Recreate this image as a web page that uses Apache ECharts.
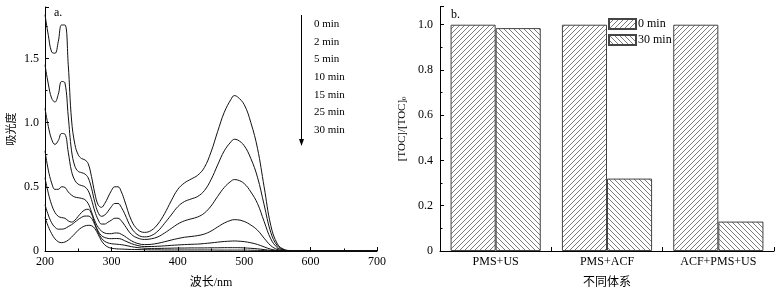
<!DOCTYPE html>
<html>
<head>
<meta charset="utf-8">
<script src="https://cdn.jsdelivr.net/npm/echarts@6/dist/echarts.min.js"></script>
<style>
  html, body { margin: 0; padding: 0; background: #fff; }
  #main { width: 780px; height: 294px; }
</style>
</head>
<body>
<div id="main"></div>
<script>
// 波长 (nm)
const WL = [200, 205, 210, 215, 220, 225, 230, 235, 240, 245, 250, 255, 260, 265, 270, 275, 280, 285, 290, 295,
  300, 305, 310, 315, 320, 330, 340, 350, 360, 370, 380, 390, 400, 410, 420, 430, 440, 450, 460, 470,
  480, 485, 490, 500, 510, 520, 530, 540, 550, 560, 570, 580, 600, 650, 700]

// 吸光度, one list per reaction time
const ABS_0 = [1.84, 1.68, 1.55, 1.54, 1.63, 1.76, 1.76, 1.45, 1.02, 0.83, 0.75, 0.72, 0.71, 0.68, 0.58, 0.45, 0.36, 0.34, 0.37, 0.42,
  0.47, 0.50, 0.50, 0.46, 0.39, 0.24, 0.165, 0.145, 0.16, 0.21, 0.29, 0.39, 0.48, 0.53, 0.56, 0.59, 0.65, 0.77, 0.93, 1.08,
  1.18, 1.21, 1.20, 1.14, 1.00, 0.80, 0.50, 0.20, 0.055, 0.012, 0.003, 0, 0, 0, 0]
const ABS_2 = [1.45, 1.30, 1.19, 1.16, 1.22, 1.32, 1.31, 1.05, 0.78, 0.66, 0.62, 0.61, 0.60, 0.57, 0.49, 0.38, 0.30, 0.27, 0.28, 0.31,
  0.345, 0.37, 0.37, 0.34, 0.29, 0.18, 0.125, 0.11, 0.12, 0.155, 0.215, 0.28, 0.345, 0.385, 0.405, 0.425, 0.47, 0.555, 0.67, 0.78,
  0.85, 0.87, 0.865, 0.82, 0.72, 0.575, 0.36, 0.145, 0.04, 0.009, 0.002, 0, 0, 0, 0]
const ABS_5 = [1.11, 0.97, 0.87, 0.83, 0.86, 0.915, 0.91, 0.77, 0.62, 0.55, 0.52, 0.51, 0.50, 0.47, 0.40, 0.31, 0.245, 0.21, 0.21, 0.225,
  0.24, 0.255, 0.255, 0.235, 0.20, 0.13, 0.10, 0.09, 0.095, 0.11, 0.14, 0.175, 0.21, 0.235, 0.25, 0.265, 0.295, 0.35, 0.425, 0.495,
  0.543, 0.556, 0.553, 0.525, 0.46, 0.37, 0.23, 0.095, 0.026, 0.006, 0.001, 0, 0, 0, 0]
const ABS_10 = [0.78, 0.63, 0.53, 0.48, 0.48, 0.50, 0.495, 0.46, 0.435, 0.42, 0.415, 0.41, 0.40, 0.37, 0.305, 0.235, 0.185, 0.155, 0.14, 0.135,
  0.135, 0.14, 0.14, 0.13, 0.115, 0.08, 0.058, 0.05, 0.052, 0.06, 0.072, 0.085, 0.097, 0.107, 0.113, 0.12, 0.132, 0.155, 0.187, 0.218,
  0.239, 0.244, 0.243, 0.23, 0.202, 0.162, 0.10, 0.042, 0.012, 0.003, 0, 0, 0, 0, 0]
const ABS_15 = [0.57, 0.45, 0.36, 0.30, 0.27, 0.26, 0.255, 0.235, 0.225, 0.24, 0.27, 0.30, 0.32, 0.325, 0.29, 0.215, 0.155, 0.12, 0.105, 0.098,
  0.096, 0.097, 0.097, 0.092, 0.08, 0.058, 0.042, 0.035, 0.035, 0.037, 0.04, 0.044, 0.047, 0.05, 0.052, 0.054, 0.058, 0.063, 0.069, 0.074,
  0.077, 0.078, 0.077, 0.073, 0.064, 0.051, 0.032, 0.014, 0.004, 0.001, 0, 0, 0, 0, 0]
const ABS_25 = [0.36, 0.28, 0.22, 0.185, 0.17, 0.17, 0.175, 0.19, 0.205, 0.225, 0.245, 0.262, 0.272, 0.272, 0.255, 0.205, 0.145, 0.10, 0.075, 0.063,
  0.057, 0.054, 0.052, 0.049, 0.045, 0.034, 0.026, 0.022, 0.02, 0.02, 0.021, 0.022, 0.023, 0.023, 0.024, 0.024, 0.024, 0.025, 0.025, 0.026,
  0.026, 0.026, 0.026, 0.024, 0.021, 0.017, 0.011, 0.005, 0.002, 0, 0, 0, 0, 0, 0]
const ABS_30 = [0.26, 0.19, 0.135, 0.095, 0.072, 0.065, 0.07, 0.085, 0.108, 0.135, 0.162, 0.182, 0.195, 0.20, 0.197, 0.175, 0.13, 0.08, 0.048, 0.03,
  0.022, 0.018, 0.016, 0.015, 0.014, 0.012, 0.011, 0.01, 0.009, 0.009, 0.008, 0.008, 0.008, 0.008, 0.008, 0.008, 0.008, 0.008, 0.007, 0.007,
  0.007, 0.007, 0.007, 0.007, 0.006, 0.005, 0.003, 0.002, 0.001, 0, 0, 0, 0, 0, 0]

const TIMES = ['0 min', '2 min', '5 min', '10 min', '15 min', '25 min', '30 min']
const SPECTRA = [ABS_0, ABS_2, ABS_5, ABS_10, ABS_15, ABS_25, ABS_30]

// 不同体系 [TOC]/[TOC]0
const SYSTEMS = ['PMS+US', 'PMS+ACF', 'ACF+PMS+US']
const TOC_0 = [1.0, 1.0, 1.0]
const TOC_30 = [0.985, 0.32, 0.13]

const SERIF = '"Liberation Serif", "Times New Roman", "Noto Sans CJK SC", serif'
const INK = '#000'

// 斜线填充
function hatch(dir) {
  const s = 5
  const c = document.createElement('canvas')
  c.width = s
  c.height = s
  const g = c.getContext('2d')
  g.fillStyle = '#fff'
  g.fillRect(0, 0, s, s)
  g.strokeStyle = '#5a5a5a'
  g.lineWidth = 0.8
  g.beginPath()
  if (dir > 0) {
    g.moveTo(0, s); g.lineTo(s, 0)
    g.moveTo(-1, 1); g.lineTo(1, -1)
    g.moveTo(s - 1, s + 1); g.lineTo(s + 1, s - 1)
  } else {
    g.moveTo(0, 0); g.lineTo(s, s)
    g.moveTo(-1, s - 1); g.lineTo(1, s + 1)
    g.moveTo(s - 1, -1); g.lineTo(s + 1, 1)
  }
  g.stroke()
  return c
}

const axisCommon = {
  axisLine: { show: true, lineStyle: { color: INK, width: 1 } },
  axisTick: { show: true, inside: true, length: 4, lineStyle: { color: INK } },
  minorTick: { show: true, splitNumber: 2, length: 2.5, lineStyle: { color: INK } },
  splitLine: { show: false },
  axisLabel: { color: INK, fontFamily: SERIF, fontSize: 12 },
  nameTextStyle: { color: INK, fontFamily: SERIF, fontSize: 12 }
}

const myChart = echarts.init(document.getElementById('main'))

const lineSeries = SPECTRA.map((arr, i) => ({
  name: 'A ' + TIMES[i],
  type: 'line',
  xAxisIndex: 0,
  yAxisIndex: 0,
  data: WL.map((w, j) => [w, arr[j]]),
  smooth: 0.4,
  showSymbol: false,
  lineStyle: { color: '#111', width: 1 },
  silent: true
}))

const barStyle = dir => ({
  color: { image: hatch(dir), repeat: 'repeat' },
  borderColor: '#444',
  borderWidth: 1
})

const option = {
  animation: false,
  backgroundColor: '#fff',
  textStyle: { fontFamily: SERIF },
  grid: [
    { left: 45, top: 7, width: 332, height: 247 },
    { left: 440, top: 6.6, width: 334, height: 248.4 }
  ],
  xAxis: [
    {
      ...axisCommon,
      type: 'value',
      gridIndex: 0,
      min: 200,
      max: 700,
      interval: 100,
      name: '波长/nm',
      nameLocation: 'middle',
      nameGap: 26,
      axisLabel: { ...axisCommon.axisLabel, margin: 5 }
    },
    {
      ...axisCommon,
      type: 'category',
      gridIndex: 1,
      data: SYSTEMS,
      minorTick: { show: false },
      axisTick: { show: true, inside: true, length: 4, alignWithLabel: false, lineStyle: { color: INK } },
      name: '不同体系',
      nameLocation: 'middle',
      nameGap: 26,
      axisLabel: { ...axisCommon.axisLabel, margin: 5 }
    }
  ],
  yAxis: [
    {
      ...axisCommon,
      type: 'value',
      gridIndex: 0,
      min: 0,
      max: 1.9,
      interval: 0.5,
      name: '吸光度',
      nameLocation: 'middle',
      nameGap: 27,
      nameTextStyle: { ...axisCommon.nameTextStyle, fontSize: 11 },
      axisLabel: {
        ...axisCommon.axisLabel,
        margin: 6,
        showMaxLabel: false,
        formatter: v => (v === 0 ? '0' : v.toFixed(1))
      }
    },
    {
      ...axisCommon,
      type: 'value',
      gridIndex: 1,
      min: 0,
      max: 1.08,
      interval: 0.2,
      name: '[TOC]/[TOC]{sub|0}',
      nameLocation: 'middle',
      nameGap: 32,
      nameTextStyle: {
        ...axisCommon.nameTextStyle,
        fontSize: 11,
        rich: { sub: { fontSize: 7, verticalAlign: 'bottom', padding: [5, 0, 0, 0], fontFamily: SERIF, color: INK } }
      },
      axisLabel: {
        ...axisCommon.axisLabel,
        margin: 7,
        showMaxLabel: false,
        formatter: v => (v === 0 ? '0' : v.toFixed(1))
      }
    }
  ],
  legend: {
    data: ['0 min', '30 min'],
    orient: 'vertical',
    icon: 'rect',
    left: 608,
    top: 18,
    padding: 0,
    itemWidth: 27,
    itemHeight: 10,
    itemGap: 4,
    textStyle: { color: INK, fontFamily: SERIF, fontSize: 12, padding: [0, 0, 0, -3] },
    selectedMode: false
  },
  series: [
    ...lineSeries,
    {
      name: '0 min',
      type: 'bar',
      xAxisIndex: 1,
      yAxisIndex: 1,
      data: TOC_0,
      barGap: '0%',
      barCategoryGap: '19%',
      itemStyle: barStyle(1)
    },
    {
      name: '30 min',
      type: 'bar',
      xAxisIndex: 1,
      yAxisIndex: 1,
      data: TOC_30,
      barGap: '0%',
      barCategoryGap: '19%',
      itemStyle: barStyle(-1)
    }
  ],
  graphic: [
    { type: 'text', x: 54, y: 13, style: { text: 'a.', font: '12px ' + SERIF, fill: INK, verticalAlign: 'middle' } },
    { type: 'text', x: 451, y: 15, style: { text: 'b.', font: '12px ' + SERIF, fill: INK, verticalAlign: 'middle' } },
    { type: 'line', shape: { x1: 301.5, y1: 15, x2: 301.5, y2: 140 }, style: { stroke: INK, lineWidth: 1 } },
    { type: 'polygon', shape: { points: [[299, 139], [304, 139], [301.5, 146]] }, style: { fill: INK } },
    ...TIMES.map((t, i) => ({
      type: 'text',
      x: 314,
      y: 24 + i * 17.7,
      style: { text: t, font: '11px ' + SERIF, fill: INK, verticalAlign: 'middle' }
    }))
  ]
}

myChart.setOption(option)
</script>
</body>
</html>
